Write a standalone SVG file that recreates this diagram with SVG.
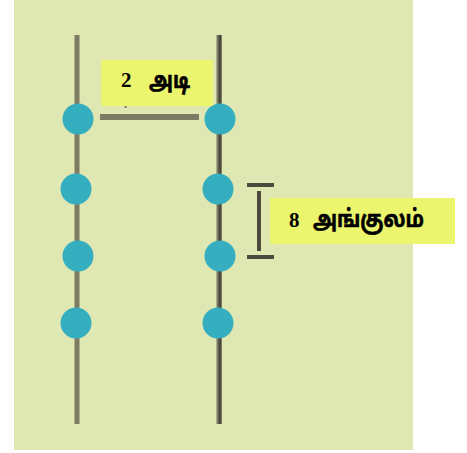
<svg xmlns="http://www.w3.org/2000/svg" width="467" height="453" viewBox="0 0 467 453">
  <style>
    .pole { stroke: #7d7b63; stroke-width: 5; fill: none; }
    .pole-dark { stroke: #4b4a3c; stroke-width: 3; fill: none; }
    .dot { fill: #35aebf; }
    .span { stroke: #7d7b63; stroke-width: 6; fill: none; }
    .brk { stroke: #4b4a3c; stroke-width: 4; fill: none; }
    .tag { fill: #ebf56d; }
    .num { font-family: "Liberation Serif", serif; font-weight: bold; font-size: 21px; fill: #000; }
    .ta { font-family: "Noto Sans Tamil", "Noto Sans", sans-serif; font-weight: bold; font-size: 24px; fill: #000; stroke: #000; stroke-width: 0.6; }
  </style>

  <!-- backdrop -->
  <rect width="467" height="453" fill="#ffffff"/>
  <rect x="14" y="0" width="399" height="450" fill="#dfe8b3"/>

  <!-- poles and measuring marks -->
  <g id="connectors">
    <line class="pole" x1="77" y1="35" x2="77" y2="424"/>
    <line class="pole" x1="219" y1="35" x2="219" y2="424"/>
    <line class="pole-dark" x1="220" y1="35" x2="220" y2="424"/>
    <line class="span" x1="100" y1="117" x2="199" y2="117"/>
    <line x1="125.5" y1="104" x2="125.5" y2="108" stroke="#7d7b63" stroke-width="2"/>
    <line class="brk" x1="247" y1="185" x2="274" y2="185"/>
    <line class="brk" x1="247" y1="257" x2="274" y2="257"/>
    <line class="brk" x1="259" y1="191" x2="259" y2="251"/>
  </g>

  <!-- left pole dots -->
  <g id="left-1"><circle class="dot" cx="78" cy="119" r="15.5"/></g>
  <g id="left-2"><circle class="dot" cx="76" cy="189" r="15.5"/></g>
  <g id="left-3"><circle class="dot" cx="78" cy="256" r="15.5"/></g>
  <g id="left-4"><circle class="dot" cx="76" cy="323" r="15.5"/></g>

  <!-- right pole dots -->
  <g id="right-1"><circle class="dot" cx="220" cy="119" r="15.5"/></g>
  <g id="right-2"><circle class="dot" cx="218" cy="189" r="15.5"/></g>
  <g id="right-3"><circle class="dot" cx="220" cy="256" r="15.5"/></g>
  <g id="right-4"><circle class="dot" cx="218" cy="323" r="15.5"/></g>

  <!-- labels -->
  <g id="label-adi">
    <rect class="tag" x="101" y="60" width="112" height="46"/>
    <text class="num" x="121" y="87">2</text>
    <text class="ta" x="149" y="88" textLength="41" lengthAdjust="spacingAndGlyphs">அடி</text>
  </g>
  <g id="label-angulam">
    <rect class="tag" x="270" y="198" width="185" height="46"/>
    <text class="num" x="289" y="227">8</text>
    <text class="ta" x="313" y="227" textLength="111" lengthAdjust="spacingAndGlyphs">அங்குலம்</text>
  </g>
</svg>
